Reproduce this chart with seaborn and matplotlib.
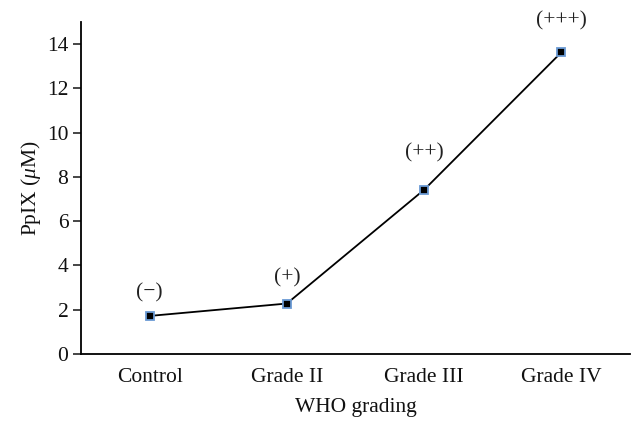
import matplotlib
matplotlib.use("Agg")
import matplotlib.pyplot as plt
import seaborn as sns
import pandas as pd

categories = ["Control", "Grade II", "Grade III", "Grade IV"]
values = [1.72, 2.28, 7.42, 13.63]
annotations = ["(\u2212)", "(+)", "(++)", "(+++)"]
label_offsets = [16.5, 18.5, 26.5, 23]  # offset in points (label centre above marker)
yticks = [0, 2, 4, 6, 8, 10, 12, 14]

sns.set_theme(style="white")
plt.rcParams["font.family"] = ["Liberation Serif", "DejaVu Serif"]
plt.rcParams["mathtext.fontset"] = "custom"
plt.rcParams["mathtext.it"] = "Liberation Serif:italic"
plt.rcParams["mathtext.rm"] = "Liberation Serif"

FS = 15.5

df = pd.DataFrame({"grade": categories, "ppix": values})

fig = plt.figure(figsize=(6.4, 4.33), dpi=100)
ax = fig.add_axes([81 / 640, 79 / 433, (630 - 81) / 640, (354 - 22) / 433])

sns.lineplot(data=df, x="grade", y="ppix", ax=ax, color="black", linewidth=1.3,
             marker="s", markersize=5.5, markerfacecolor="black",
             markeredgecolor="#6a9ad4", markeredgewidth=1.3, sort=False)

for i, (v, t, off) in enumerate(zip(values, annotations, label_offsets)):
    ax.annotate(t, (i, v), xytext=(0, off), textcoords="offset points",
                ha="center", va="center", fontsize=FS, color="#222222")

ax.set_xlim(-0.5, 3.5)
ax.set_ylim(0, 15)
ax.set_yticks(yticks)
ax.set_yticklabels([str(t) for t in yticks])
ax.set_xlabel("WHO grading", fontsize=FS, color="#111111", labelpad=8)
ax.set_ylabel("PpIX ($\\mathit{\\mu}$M)", fontsize=FS, color="#111111", labelpad=3)

for s in ["top", "right"]:
    ax.spines[s].set_visible(False)
for s in ["left", "bottom"]:
    ax.spines[s].set_color("black")
    ax.spines[s].set_linewidth(1.3)

ax.tick_params(axis="y", which="both", left=True, length=6, width=1.2,
               direction="out", labelsize=FS, labelcolor="#111111", pad=3)
ax.tick_params(axis="x", which="both", bottom=False, labelsize=FS,
               labelcolor="#111111", pad=4)

fig.savefig("out.png", dpi=100)
